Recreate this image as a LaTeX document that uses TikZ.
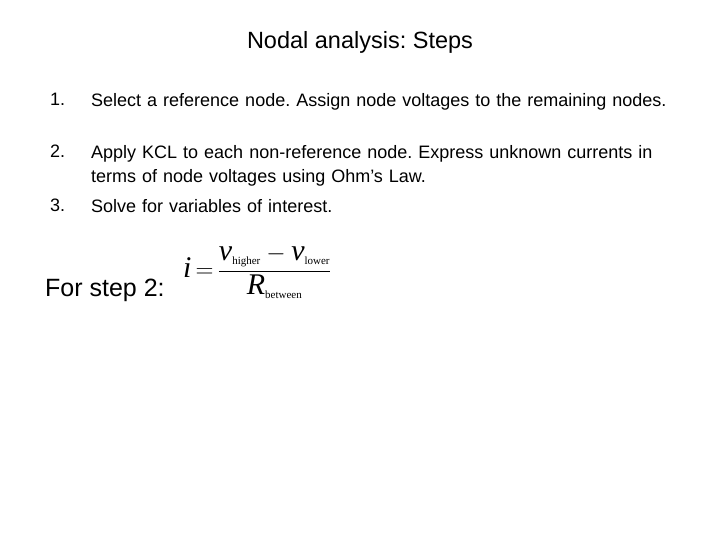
\documentclass[tikz,border=0pt]{standalone}
\usepackage{amsmath}
\usepackage{fontspec}
\setmainfont{Liberation Sans}
\newfontfamily\mathserif{Liberation Serif}
\usetikzlibrary{positioning}
\tikzset{
    slidetext/.style={anchor=north west, inner sep=0pt, font=\fontsize{18}{24.5}\selectfont},
    numtext/.style={slidetext, text width=1cm},
    steptext/.style={slidetext, text width=600pt, align=left}
}
\newcommand{\subtxt}[1]{\text{\mathserif\fontsize{11}{11}\selectfont #1}}
\frenchspacing
\begin{document}
\begin{tikzpicture}[x=1pt, y=-1pt]
\useasboundingbox (0,0) rectangle (720,540);

% Title
\node[font=\fontsize{23.5}{28}\selectfont, inner sep=0pt] (title) at (360,42) {Nodal analysis: Steps};

% Numbered steps
\node[numtext] (n1) at (50,93) {1.};
\node[numtext] (n2) at (50,145) {2.};
\node[numtext] (n3) at (50,199) {3.};
\node[steptext] (s1) at (91,93) {Select a reference node. Assign node voltages to the remaining nodes.};
\node[steptext] (s2) at (91,145) {Apply KCL to each non-reference node. Express unknown currents in terms of node voltages using Ohm’s Law.};
\node[steptext] (s3) at (91,199) {Solve for variables of interest.};

% Formula for step 2
\node[anchor=west, inner sep=0pt, font=\fontsize{25}{30}\selectfont] (forstep) at (45,290) {For step 2:};
\node[anchor=west, inner sep=0pt, font=\mathserif\fontsize{30}{36}\selectfont] (formula) at (183,272)
  {$\textit{i}\,{=}\,\dfrac{\textit{v}_{\subtxt{higher}}-\textit{v}_{\subtxt{lower}}}{\textit{R}_{\subtxt{between}}}$};
\end{tikzpicture}
\end{document}
